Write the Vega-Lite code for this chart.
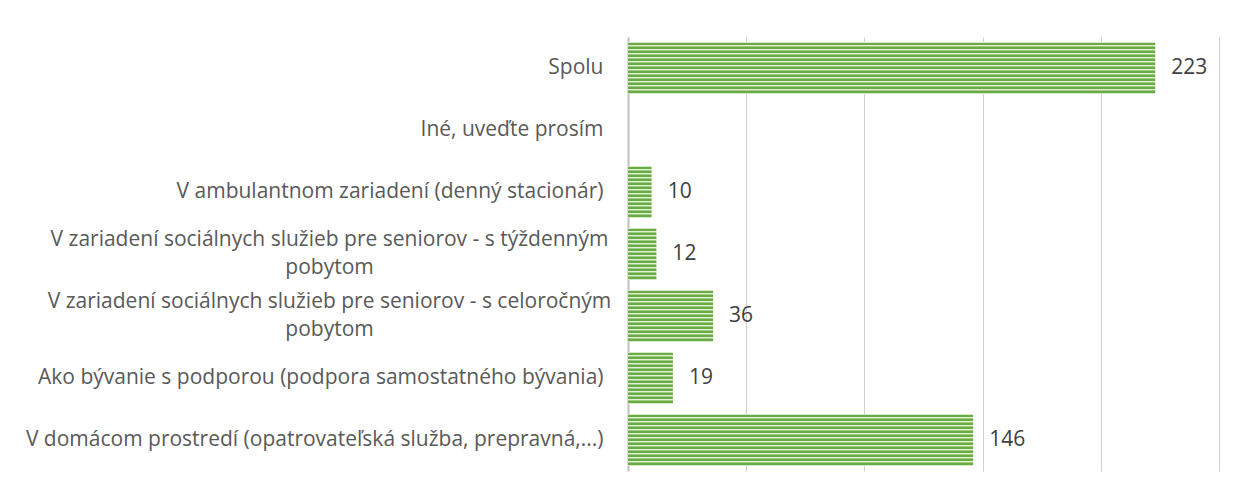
{
  "$schema": "https://vega.github.io/schema/vega-lite/v6.json",
  "autosize": {"type": "none"},
  "padding": {"left": 628, "top": 37, "right": 18, "bottom": 24},
  "width": 591,
  "height": 434,
  "background": "white",
  "config": {"view": {"stroke": null}},
  "data": {
    "values": [
      {"kategoria": "Spolu", "pocet": 223},
      {"kategoria": "Iné, uveďte prosím", "pocet": null},
      {"kategoria": "V ambulantnom zariadení (denný stacionár)", "pocet": 10},
      {"kategoria": "V zariadení sociálnych služieb pre seniorov - s týždenným pobytom", "pocet": 12},
      {"kategoria": "V zariadení sociálnych služieb pre seniorov - s celoročným pobytom", "pocet": 36},
      {"kategoria": "Ako bývanie s podporou (podpora samostatného bývania)", "pocet": 19},
      {"kategoria": "V domácom prostredí (opatrovateľská služba, prepravná,...)", "pocet": 146}
    ]
  },
  "encoding": {
    "y": {
      "field": "kategoria",
      "type": "nominal",
      "sort": null,
      "scale": {
        "domain": [
          "Spolu",
          "Iné, uveďte prosím",
          "V ambulantnom zariadení (denný stacionár)",
          "V zariadení sociálnych služieb pre seniorov - s týždenným pobytom",
          "V zariadení sociálnych služieb pre seniorov - s celoročným pobytom",
          "Ako bývanie s podporou (podpora samostatného bývania)",
          "V domácom prostredí (opatrovateľská služba, prepravná,...)"
        ],
        "paddingInner": 0.16,
        "paddingOuter": 0.08
      },
      "axis": {
        "title": null,
        "ticks": false,
        "domain": true,
        "domainColor": "#bfbfbf",
        "domainWidth": 2,
        "labelFont": "Open Sans",
        "labelFontSize": 21,
        "labelColor": "#595959",
        "labelLimit": 700,
        "labelLineHeight": 28,
        "labelExpr": "datum.value == 'V zariadení sociálnych služieb pre seniorov - s týždenným pobytom' ? ['V zariadení sociálnych služieb pre seniorov - s týždenným', 'pobytom'] : datum.value == 'V zariadení sociálnych služieb pre seniorov - s celoročným pobytom' ? ['V zariadení sociálnych služieb pre seniorov - s celoročným', 'pobytom'] : datum.label",
        "labelAlign": {"condition": {"test": "datum.value == 'V zariadení sociálnych služieb pre seniorov - s týždenným pobytom' || datum.value == 'V zariadení sociálnych služieb pre seniorov - s celoročným pobytom'", "value": "center"}, "value": "right"},
        "labelPadding": {"condition": {"test": "datum.value == 'V zariadení sociálnych služieb pre seniorov - s týždenným pobytom' || datum.value == 'V zariadení sociálnych služieb pre seniorov - s celoročným pobytom'", "value": 299}, "value": 25},
        "labelOffset": {"condition": {"test": "datum.value == 'V zariadení sociálnych služieb pre seniorov - s týždenným pobytom' || datum.value == 'V zariadení sociálnych služieb pre seniorov - s celoročným pobytom'", "value": -14}, "value": 0}
      }
    },
    "x": {
      "field": "pocet",
      "type": "quantitative",
      "scale": {"domain": [0, 250], "nice": false},
      "axis": {
        "title": null,
        "labels": false,
        "ticks": false,
        "domain": false,
        "grid": true,
        "values": [50, 100, 150, 200, 250],
        "gridColor": "#d0d0d0",
        "gridWidth": 1
      }
    }
  },
  "layer": [
    {
      "mark": {
        "type": "bar",
        "color": {
          "gradient": "linear",
          "x1": 0, "y1": 0, "x2": 0, "y2": 1,
          "stops": [
            {"offset": 0.0, "color": "#d3e8c6"},
            {"offset": 0.02, "color": "#d3e8c6"},
            {"offset": 0.02, "color": "#6aab44"},
            {"offset": 0.058, "color": "#6aab44"},
            {"offset": 0.058, "color": "#e2f0d9"},
            {"offset": 0.078, "color": "#e2f0d9"},
            {"offset": 0.078, "color": "#9ccc80"},
            {"offset": 0.097, "color": "#9ccc80"},
            {"offset": 0.097, "color": "#6aab44"},
            {"offset": 0.135, "color": "#6aab44"},
            {"offset": 0.135, "color": "#e2f0d9"},
            {"offset": 0.155, "color": "#e2f0d9"},
            {"offset": 0.155, "color": "#9ccc80"},
            {"offset": 0.174, "color": "#9ccc80"},
            {"offset": 0.174, "color": "#6aab44"},
            {"offset": 0.212, "color": "#6aab44"},
            {"offset": 0.212, "color": "#e2f0d9"},
            {"offset": 0.232, "color": "#e2f0d9"},
            {"offset": 0.232, "color": "#9ccc80"},
            {"offset": 0.251, "color": "#9ccc80"},
            {"offset": 0.251, "color": "#6aab44"},
            {"offset": 0.289, "color": "#6aab44"},
            {"offset": 0.289, "color": "#e2f0d9"},
            {"offset": 0.309, "color": "#e2f0d9"},
            {"offset": 0.309, "color": "#9ccc80"},
            {"offset": 0.328, "color": "#9ccc80"},
            {"offset": 0.328, "color": "#6aab44"},
            {"offset": 0.366, "color": "#6aab44"},
            {"offset": 0.366, "color": "#e2f0d9"},
            {"offset": 0.386, "color": "#e2f0d9"},
            {"offset": 0.386, "color": "#9ccc80"},
            {"offset": 0.405, "color": "#9ccc80"},
            {"offset": 0.405, "color": "#6aab44"},
            {"offset": 0.443, "color": "#6aab44"},
            {"offset": 0.443, "color": "#e2f0d9"},
            {"offset": 0.463, "color": "#e2f0d9"},
            {"offset": 0.463, "color": "#9ccc80"},
            {"offset": 0.482, "color": "#9ccc80"},
            {"offset": 0.482, "color": "#6aab44"},
            {"offset": 0.52, "color": "#6aab44"},
            {"offset": 0.52, "color": "#e2f0d9"},
            {"offset": 0.54, "color": "#e2f0d9"},
            {"offset": 0.54, "color": "#9ccc80"},
            {"offset": 0.559, "color": "#9ccc80"},
            {"offset": 0.559, "color": "#6aab44"},
            {"offset": 0.597, "color": "#6aab44"},
            {"offset": 0.597, "color": "#e2f0d9"},
            {"offset": 0.617, "color": "#e2f0d9"},
            {"offset": 0.617, "color": "#9ccc80"},
            {"offset": 0.636, "color": "#9ccc80"},
            {"offset": 0.636, "color": "#6aab44"},
            {"offset": 0.674, "color": "#6aab44"},
            {"offset": 0.674, "color": "#e2f0d9"},
            {"offset": 0.694, "color": "#e2f0d9"},
            {"offset": 0.694, "color": "#9ccc80"},
            {"offset": 0.713, "color": "#9ccc80"},
            {"offset": 0.713, "color": "#6aab44"},
            {"offset": 0.751, "color": "#6aab44"},
            {"offset": 0.751, "color": "#e2f0d9"},
            {"offset": 0.771, "color": "#e2f0d9"},
            {"offset": 0.771, "color": "#9ccc80"},
            {"offset": 0.79, "color": "#9ccc80"},
            {"offset": 0.79, "color": "#6aab44"},
            {"offset": 0.828, "color": "#6aab44"},
            {"offset": 0.828, "color": "#e2f0d9"},
            {"offset": 0.848, "color": "#e2f0d9"},
            {"offset": 0.848, "color": "#9ccc80"},
            {"offset": 0.867, "color": "#9ccc80"},
            {"offset": 0.867, "color": "#6aab44"},
            {"offset": 0.905, "color": "#6aab44"},
            {"offset": 0.905, "color": "#e2f0d9"},
            {"offset": 0.925, "color": "#e2f0d9"},
            {"offset": 0.925, "color": "#9ccc80"},
            {"offset": 0.944, "color": "#9ccc80"},
            {"offset": 0.944, "color": "#6aab44"},
            {"offset": 0.982, "color": "#6aab44"},
            {"offset": 0.982, "color": "#d3e8c6"},
            {"offset": 1.0, "color": "#d3e8c6"}
          ]
        }
      }
    },
    {
      "mark": {
        "type": "text",
        "align": "left",
        "baseline": "middle",
        "dx": 16,
        "font": "Open Sans",
        "fontSize": 21,
        "color": "#404040"
      },
      "encoding": {"text": {"field": "pocet", "type": "quantitative"}}
    }
  ]
}
